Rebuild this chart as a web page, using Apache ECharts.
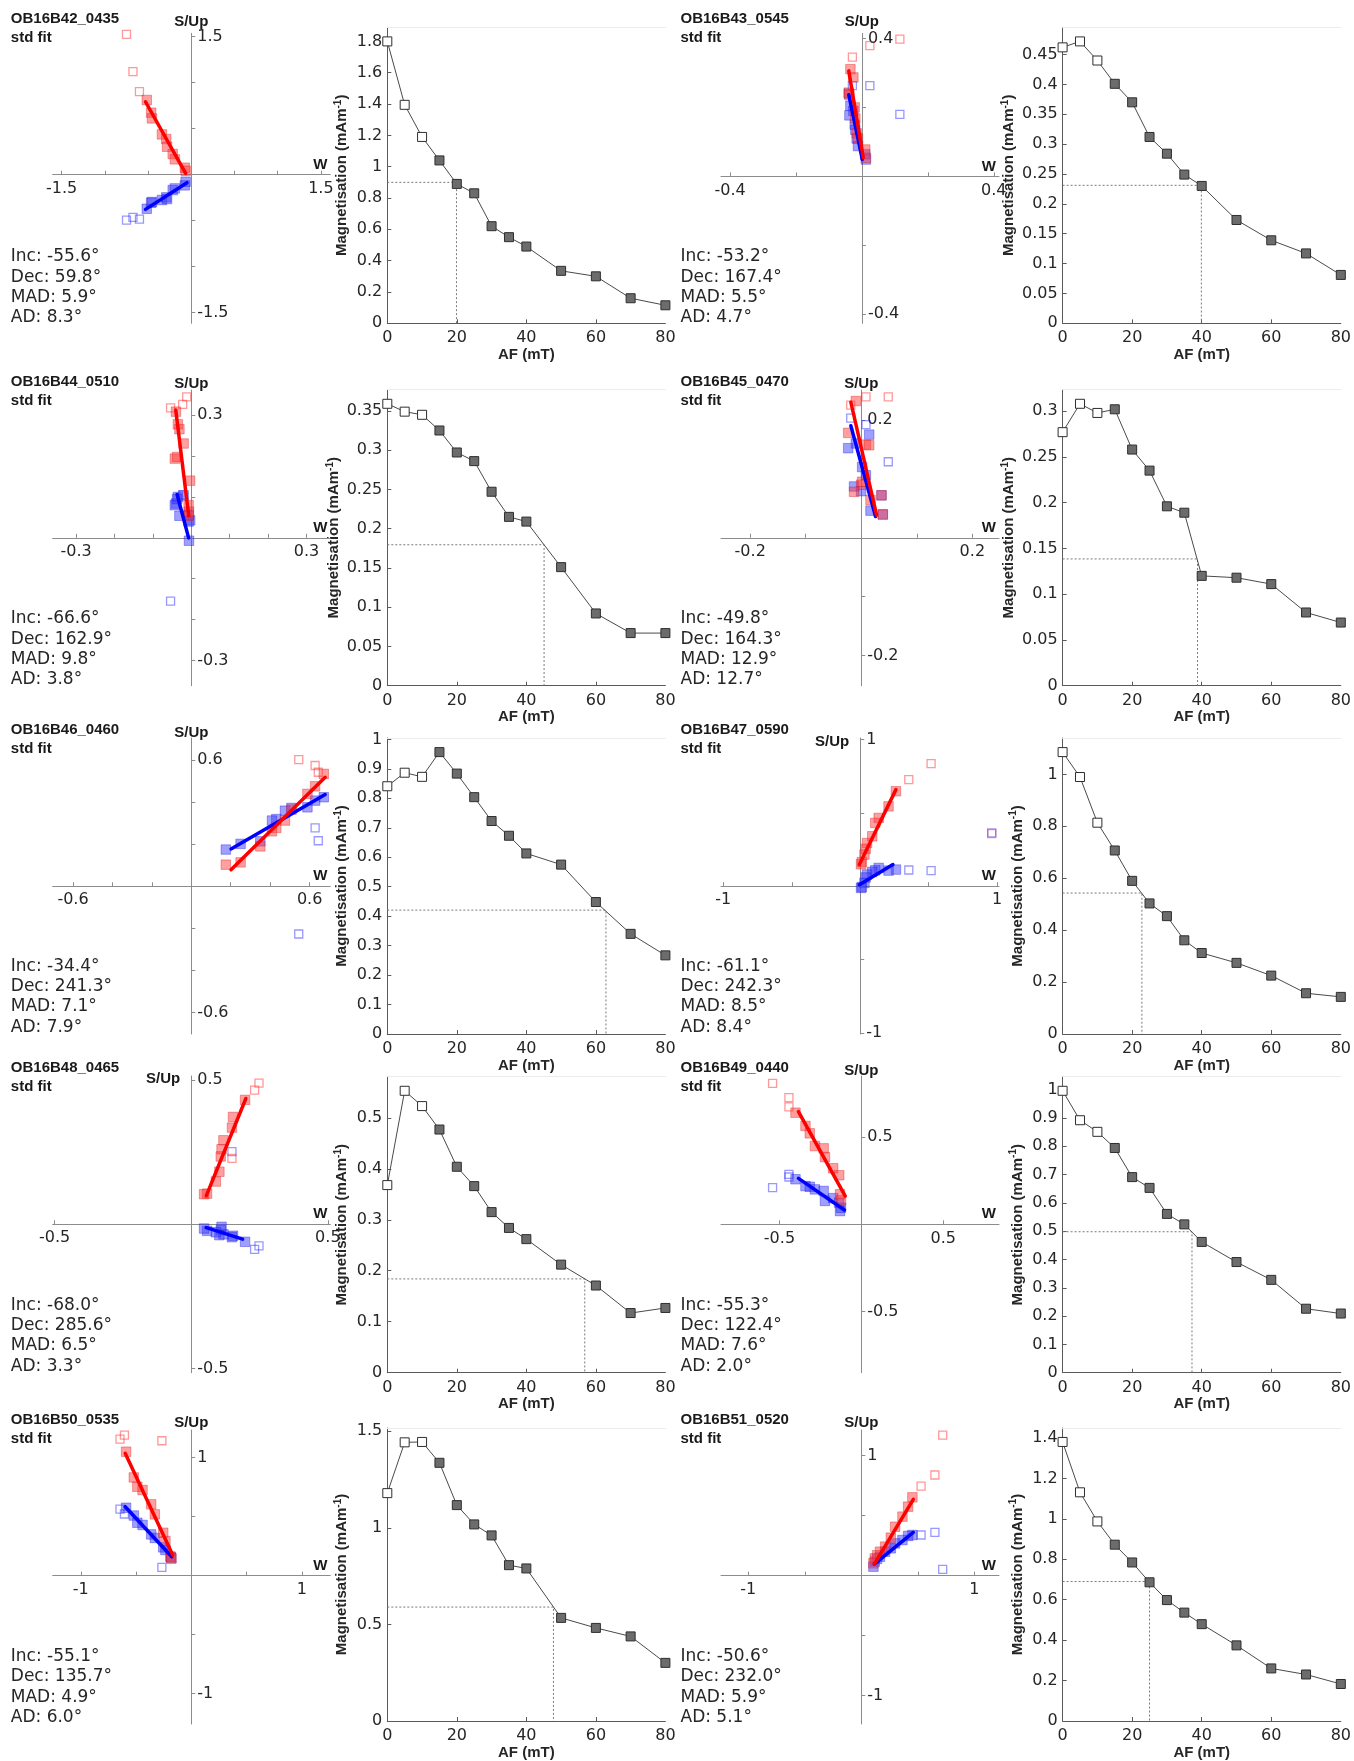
<!DOCTYPE html>
<html>
<head>
<meta charset="utf-8">
<script src="https://cdn.jsdelivr.net/npm/echarts@6/dist/echarts.min.js"></script>
<style>
  html, body { margin: 0; padding: 0; background: #ffffff; }
  #chart { width: 1354px; height: 1761px; }
</style>
</head>
<body>
<div id="chart"></div>
<script>
// ---------------------------------------------------------------------------
// AF demagnetisation results, ten specimens
// ---------------------------------------------------------------------------
const afSteps = [0, 5, 10, 15, 20, 25, 30, 35, 40, 50, 60, 70, 80]; // mT
const excludedSteps = 3; // first three steps (0, 5, 10 mT) are left out of the fit

const specimenNames = ['OB16B42_0435', 'OB16B43_0545', 'OB16B44_0510', 'OB16B45_0470', 'OB16B46_0460',
                       'OB16B47_0590', 'OB16B48_0465', 'OB16B49_0440', 'OB16B50_0535', 'OB16B51_0520'];
const fitLabel = 'std fit';
const incValues = [-55.6, -53.2, -66.6, -49.8, -34.4, -61.1, -68.0, -55.3, -55.1, -50.6];
const decValues = [59.8, 167.4, 162.9, 164.3, 241.3, 242.3, 285.6, 122.4, 135.7, 232.0];
const madValues = [5.9, 5.5, 9.8, 12.9, 7.1, 8.5, 6.5, 7.6, 4.9, 5.9];
const adValues  = [8.3, 4.7, 3.8, 12.7, 7.9, 8.4, 3.3, 2.0, 6.0, 5.1];

// Magnetisation intensity (mA/m) at each AF step
const magB42 = [1.80, 1.395, 1.19, 1.04, 0.89, 0.83, 0.62, 0.55, 0.49, 0.335, 0.30, 0.16, 0.115];
const magB43 = [0.462, 0.472, 0.440, 0.401, 0.370, 0.312, 0.284, 0.249, 0.230, 0.173, 0.139, 0.117, 0.081];
const magB44 = [0.359, 0.349, 0.345, 0.325, 0.297, 0.286, 0.247, 0.215, 0.209, 0.151, 0.092, 0.067, 0.067];
const magB45 = [0.277, 0.308, 0.298, 0.302, 0.258, 0.235, 0.196, 0.189, 0.120, 0.118, 0.111, 0.080, 0.069];
const magB46 = [0.841, 0.887, 0.873, 0.957, 0.884, 0.804, 0.723, 0.673, 0.613, 0.575, 0.448, 0.340, 0.267];
const magB47 = [1.086, 0.990, 0.814, 0.707, 0.590, 0.503, 0.454, 0.361, 0.312, 0.274, 0.225, 0.157, 0.143];
const magB48 = [0.368, 0.553, 0.523, 0.477, 0.404, 0.366, 0.315, 0.284, 0.262, 0.212, 0.171, 0.117, 0.127];
const magB49 = [0.996, 0.892, 0.851, 0.794, 0.691, 0.653, 0.561, 0.524, 0.462, 0.391, 0.328, 0.226, 0.209];
const magB50 = [1.180, 1.443, 1.445, 1.337, 1.118, 1.018, 0.961, 0.807, 0.790, 0.534, 0.482, 0.438, 0.301];
const magB51 = [1.380, 1.131, 0.987, 0.872, 0.784, 0.686, 0.598, 0.536, 0.479, 0.374, 0.260, 0.230, 0.183];

// Median destructive field: [AF (mT), half of NRM intensity]
const mdfB42 = [19.9, 0.900];
const mdfB43 = [39.9, 0.231];
const mdfB44 = [45.1, 0.1795];
const mdfB45 = [38.8, 0.1385];
const mdfB46 = [62.9, 0.4205];
const mdfB47 = [22.8, 0.543];
const mdfB48 = [56.8, 0.184];
const mdfB49 = [37.2, 0.498];
const mdfB50 = [47.8, 0.590];
const mdfB51 = [25.0, 0.690];

// Orthogonal-projection components: W (east-west), Up (vertical), S (north-south)
const wB42  = [-0.750, -0.675, -0.600, -0.515, -0.465, -0.455, -0.340, -0.290, -0.280, -0.215, -0.190, -0.075, -0.065];
const upB42 = [1.525, 1.120, 0.902, 0.812, 0.674, 0.612, 0.438, 0.388, 0.304, 0.225, 0.167, 0.076, 0.043];
const sB42  = [-0.493, -0.464, -0.482, -0.370, -0.304, -0.297, -0.275, -0.246, -0.264, -0.167, -0.149, -0.116, -0.076];
const fitVB42 = [[-0.530, 0.793], [-0.065, 0.014]];
const fitHB42 = [[-0.530, -0.377], [-0.050, -0.087]];

const wB43  = [0.115, 0.024, -0.029, -0.035, -0.026, -0.040, -0.038, -0.022, -0.020, -0.016, -0.012, 0.010, 0.012];
const upB43 = [0.398, 0.379, 0.346, 0.311, 0.287, 0.243, 0.236, 0.200, 0.168, 0.125, 0.110, 0.078, 0.054];
const sB43  = [0.180, 0.263, 0.263, 0.205, 0.190, 0.240, 0.177, 0.150, 0.135, 0.110, 0.088, 0.064, 0.049];
const fitVB43 = [[-0.040, 0.306], [0.004, 0.054]];
const fitHB43 = [[-0.040, 0.237], [0.001, 0.049]];

const wB44  = [-0.054, -0.0225, -0.012, -0.040, -0.035, -0.031, -0.020, -0.043, -0.037, -0.003, -0.007, -0.006, -0.007];
const upB44 = [0.318, 0.327, 0.345, 0.309, 0.278, 0.266, 0.231, 0.194, 0.198, 0.140, 0.080, 0.064, 0.054];
const sB44  = [-0.155, 0.105, 0.055, 0.084, 0.100, 0.054, 0.104, 0.080, 0.095, 0.043, 0.056, -0.007, 0.040];
const fitVB44 = [[-0.0405, 0.313], [-0.0067, 0.054]];
const fitHB44 = [[-0.037, 0.106], [-0.007, 0.000]];

const wB45  = [0.0486, 0.0085, -0.019, -0.0098, -0.0236, 0.0083, 0.0143, -0.0003, -0.013, 0.0166, 0.0364, 0.0388, 0.0015];
const upB45 = [0.239, 0.239, 0.225, 0.232, 0.178, 0.158, 0.157, 0.090, 0.078, 0.064, 0.072, 0.039, 0.095];
const sB45  = [0.129, 0.192, 0.203, 0.160, 0.152, 0.106, 0.175, 0.079, 0.087, 0.046, 0.072, 0.040, 0.120];
const fitVB45 = [[-0.0188, 0.230], [0.0276, 0.0384]];
const fitHB45 = [[-0.0188, 0.190], [0.0257, 0.036]];

const wB46  = [0.545, 0.628, 0.644, 0.672, 0.628, 0.589, 0.508, 0.475, 0.431, 0.409, 0.350, 0.250, 0.175];
const upB46 = [0.603, 0.575, 0.543, 0.535, 0.476, 0.440, 0.365, 0.313, 0.278, 0.262, 0.190, 0.114, 0.103];
const sB46  = [-0.227, 0.278, 0.217, 0.424, 0.408, 0.376, 0.373, 0.360, 0.320, 0.313, 0.214, 0.202, 0.175];
const fitVB46 = [[0.2015, 0.079], [0.679, 0.519]];
const fitHB46 = [[0.2015, 0.178], [0.679, 0.437]];

const wB47  = [0.961, 0.518, 0.355, 0.261, 0.207, 0.135, 0.110, 0.088, 0.050, 0.040, 0.031, 0.012, 0.006];
const upB47 = [0.359, 0.836, 0.727, 0.648, 0.545, 0.466, 0.432, 0.341, 0.295, 0.255, 0.216, 0.165, 0.150];
const sB47  = [0.364, 0.107, 0.111, 0.114, 0.107, 0.125, 0.109, 0.098, 0.080, 0.060, 0.023, -0.005, -0.011];
const fitVB47 = [[-0.006, 0.148], [0.261, 0.659]];
const fitHB47 = [[-0.006, 0.011], [0.239, 0.148]];

const wB48  = [0.248, 0.232, 0.149, 0.197, 0.153, 0.149, 0.118, 0.111, 0.108, 0.103, 0.090, 0.058, 0.047];
const upB48 = [0.489, 0.465, 0.228, 0.431, 0.372, 0.335, 0.291, 0.260, 0.235, 0.182, 0.148, 0.106, 0.104];
const sB48  = [-0.075, -0.087, 0.252, -0.061, -0.040, -0.045, -0.035, -0.009, -0.020, -0.038, -0.028, -0.023, -0.015];
const fitVB48 = [[0.055, 0.098], [0.200, 0.436]];
const fitHB48 = [[0.055, -0.012], [0.188, -0.052]];

const wB49  = [-0.542, -0.442, -0.442, -0.402, -0.341, -0.315, -0.283, -0.230, -0.222, -0.172, -0.135, -0.130, -0.124];
const upB49 = [0.807, 0.725, 0.672, 0.639, 0.563, 0.521, 0.448, 0.435, 0.385, 0.321, 0.281, 0.172, 0.137];
const sB49  = [0.210, 0.286, 0.271, 0.258, 0.219, 0.215, 0.200, 0.191, 0.134, 0.150, 0.124, 0.076, 0.095];
const fitVB49 = [[-0.384, 0.645], [-0.098, 0.162]];
const fitHB49 = [[-0.384, 0.263], [-0.103, 0.082]];

const wB50  = [-0.645, -0.605, -0.266, -0.590, -0.520, -0.488, -0.441, -0.363, -0.330, -0.254, -0.234, -0.1875, -0.180];
const upB50 = [1.158, 1.192, 1.144, 1.051, 0.833, 0.754, 0.726, 0.605, 0.520, 0.364, 0.294, 0.161, 0.147];
const sB50  = [0.565, 0.523, 0.071, 0.576, 0.510, 0.449, 0.430, 0.350, 0.320, 0.240, 0.218, 0.161, 0.147];
const fitVB50 = [[-0.598, 1.037], [-0.168, 0.175]];
const fitHB50 = [[-0.598, 0.585], [-0.176, 0.161]];

const wB51  = [0.720, 0.651, 0.529, 0.452, 0.414, 0.364, 0.299, 0.261, 0.211, 0.165, 0.140, 0.119, 0.107];
const upB51 = [1.172, 0.839, 0.747, 0.653, 0.575, 0.492, 0.408, 0.317, 0.242, 0.200, 0.170, 0.144, 0.103];
const sB51  = [0.053, 0.361, 0.339, 0.339, 0.331, 0.297, 0.269, 0.228, 0.200, 0.158, 0.140, 0.117, 0.075];
const fitVB51 = [[0.115, 0.097], [0.460, 0.636]];
const fitHB51 = [[0.115, 0.097], [0.460, 0.361]];

// Axis tick settings
const zijTickStep  = [0.5, 0.2, 0.1, 0.1, 0.2, 0.5, 0.5, 0.5, 0.5, 0.5];
const zijTickLabel = [1.5, 0.4, 0.3, 0.2, 0.6, 1, 0.5, 0.5, 1, 1];
const magTickStep  = [0.2, 0.05, 0.05, 0.05, 0.1, 0.2, 0.1, 0.1, 0.5, 0.2];
const afTickLabels = [0, 20, 40, 60, 80];

// ---------------------------------------------------------------------------
// Layout (pixels)
// ---------------------------------------------------------------------------
const rowBottom  = [323.3, 685.7, 1034, 1372.7, 1724];
const zijTop     = [33.3, 390, 738, 1076, 1430];
const demagHeight = 296;
const demagLeft  = [387.3, 1062.6];
const demagWidth = [278.1, 278.5];
const zijLeft    = [52.7, 721.0];
const zijWidth   = [277.6, 278.0];
const textLeft   = [10.8, 680.5];
const titleY     = [19, 381.7, 730.3, 1067.7, 1420];
const statsY     = [257, 619, 966.3, 1305.3, 1656.7];
const statsGap   = 20.3;
// axis extents of each projection plot: [xmin, xmax, ymin, ymax]
const zijExtent = [
  [-1.604, 1.609, -1.615, 1.537],
  [-0.4275, 0.4157, -0.426, 0.415],
  [-0.361, 0.362, -0.362, 0.362],
  [-0.2526, 0.248, -0.251, 0.2507],
  [-0.703, 0.705, -0.703, 0.706],
  [-1.017, 1.014, -1.007, 1.011],
  [-0.507, 0.509, -0.515, 0.514],
  [-0.857, 0.841, -0.849, 0.849],
  [-1.254, 1.258, -1.257, 1.235],
  [-1.241, 1.218, -1.236, 1.214]
];
const sUpY = [21.7, 21.7, 384.3, 384.3, 733, 742, 1079.3, 1071, 1422.7, 1422.7];
const sUpBeside = [false, false, false, false, false, true, true, false, false, false];

const TICK_FONT = "'DejaVu Sans', 'Noto Sans', sans-serif";
const BOLD_FONT = "'Liberation Sans', Arial, sans-serif";
const TEXT_COLOR = '#262626';

const specimens = [
  { mag: magB42, mdf: mdfB42, w: wB42, up: upB42, s: sB42, fitV: fitVB42, fitH: fitHB42 },
  { mag: magB43, mdf: mdfB43, w: wB43, up: upB43, s: sB43, fitV: fitVB43, fitH: fitHB43 },
  { mag: magB44, mdf: mdfB44, w: wB44, up: upB44, s: sB44, fitV: fitVB44, fitH: fitHB44 },
  { mag: magB45, mdf: mdfB45, w: wB45, up: upB45, s: sB45, fitV: fitVB45, fitH: fitHB45 },
  { mag: magB46, mdf: mdfB46, w: wB46, up: upB46, s: sB46, fitV: fitVB46, fitH: fitHB46 },
  { mag: magB47, mdf: mdfB47, w: wB47, up: upB47, s: sB47, fitV: fitVB47, fitH: fitHB47 },
  { mag: magB48, mdf: mdfB48, w: wB48, up: upB48, s: sB48, fitV: fitVB48, fitH: fitHB48 },
  { mag: magB49, mdf: mdfB49, w: wB49, up: upB49, s: sB49, fitV: fitVB49, fitH: fitHB49 },
  { mag: magB50, mdf: mdfB50, w: wB50, up: upB50, s: sB50, fitV: fitVB50, fitH: fitHB50 },
  { mag: magB51, mdf: mdfB51, w: wB51, up: upB51, s: sB51, fitV: fitVB51, fitH: fitHB51 }
];

function fmt(v) { return String(parseFloat(Number(v).toFixed(4))); }
function multiples(step, lo, hi, skipZero) {
  const out = [];
  const n0 = Math.ceil(lo / step - 1e-9), n1 = Math.floor(hi / step + 1e-9);
  for (let n = n0; n <= n1; n++) {
    if (skipZero && n === 0) continue;
    out.push(parseFloat((n * step).toFixed(6)));
  }
  return out;
}
function textEl(x, y, text, opts) {
  const st = Object.assign({
    text: text, x: 0, y: 0,
    fontFamily: TICK_FONT, fontSize: 17, fontWeight: 'normal', fill: TEXT_COLOR,
    align: 'left', verticalAlign: 'middle'
  }, opts || {});
  st.textAlign = st.align;
  st.textVerticalAlign = st.verticalAlign;
  return { type: 'text', x: x, y: y, silent: true, style: st };
}

const grids = [], xAxes = [], yAxes = [], series = [], graphics = [];

specimens.forEach(function (sp, k) {
  const row = Math.floor(k / 2), col = k % 2;

  // ---------------- orthogonal projection (Zijderveld) ----------------
  const ext = zijExtent[k];
  const zl = zijLeft[col], zw = zijWidth[col], zt = zijTop[row], zh = rowBottom[row] - zt;
  const originX = zl + (-ext[0]) / (ext[1] - ext[0]) * zw;
  const originY = zt + ext[3] / (ext[3] - ext[2]) * zh;
  const gz = grids.length;
  grids.push({ left: zl, top: zt, width: zw, height: zh, containLabel: false });
  const step = zijTickStep[k], lab = zijTickLabel[k];
  const axisGrey = '#8c8c8c';
  const zx = xAxes.length;
  xAxes.push({
    gridIndex: gz, type: 'value', min: ext[0], max: ext[1], position: 'bottom',
    offset: -(zt + zh - originY),
    axisLine: { show: true, onZero: false, lineStyle: { color: axisGrey, width: 1 } },
    axisTick: { show: true, inside: true, length: 4, customValues: multiples(step, ext[0], ext[1], true),
                lineStyle: { color: axisGrey } },
    axisLabel: { customValues: [-lab, lab], formatter: fmt, margin: 6,
                 fontFamily: TICK_FONT, fontSize: 16, color: TEXT_COLOR },
    splitLine: { show: false }
  });
  const zy = yAxes.length;
  yAxes.push({
    gridIndex: gz, type: 'value', min: ext[2], max: ext[3], position: 'left',
    offset: -(originX - zl),
    axisLine: { show: true, onZero: false, lineStyle: { color: axisGrey, width: 1 } },
    axisTick: { show: true, inside: true, length: 4, customValues: multiples(step, ext[2], ext[3], true),
                lineStyle: { color: axisGrey } },
    axisLabel: { inside: true, customValues: [-lab, lab], formatter: fmt, margin: 6,
                 fontFamily: TICK_FONT, fontSize: 16, color: TEXT_COLOR },
    splitLine: { show: false }
  });

  const openH = [], fillH = [], openV = [], fillV = [];
  sp.w.forEach(function (w, i) {
    if (i < excludedSteps) { openH.push([w, sp.s[i]]); openV.push([w, sp.up[i]]); }
    else { fillH.push([w, sp.s[i]]); fillV.push([w, sp.up[i]]); }
  });
  const common = { xAxisIndex: zx, yAxisIndex: zy, symbol: 'rect', silent: true, animation: false };
  series.push(Object.assign({ type: 'scatter', data: openH, symbolSize: 8, z: 2,
    itemStyle: { color: 'rgba(255,255,255,0)', borderColor: 'rgba(40,40,255,0.6)', borderWidth: 1.3 } }, common));
  series.push(Object.assign({ type: 'scatter', data: fillH, symbolSize: 9.5, z: 2,
    itemStyle: { color: 'rgba(60,60,255,0.62)', borderColor: 'rgba(20,20,220,0.45)', borderWidth: 1 } }, common));
  series.push(Object.assign({ type: 'scatter', data: openV, symbolSize: 8, z: 3,
    itemStyle: { color: 'rgba(255,255,255,0)', borderColor: 'rgba(255,40,40,0.6)', borderWidth: 1.3 } }, common));
  series.push(Object.assign({ type: 'scatter', data: fillV, symbolSize: 9.5, z: 3,
    itemStyle: { color: 'rgba(255,60,60,0.62)', borderColor: 'rgba(220,20,20,0.45)', borderWidth: 1 } }, common));
  series.push({ type: 'line', xAxisIndex: zx, yAxisIndex: zy, data: sp.fitH, symbol: 'none', z: 4,
    silent: true, animation: false, lineStyle: { color: '#0000ff', width: 3.5, cap: 'round' } });
  series.push({ type: 'line', xAxisIndex: zx, yAxisIndex: zy, data: sp.fitV, symbol: 'none', z: 5,
    silent: true, animation: false, lineStyle: { color: '#ff0000', width: 3.5, cap: 'round' } });

  // axis captions of the projection plot
  if (sUpBeside[k]) {
    graphics.push(textEl(originX - 11, sUpY[k], 'S/Up', { fontFamily: BOLD_FONT, fontWeight: 'bold', fontSize: 15, align: 'right', fill: '#1a1a1a' }));
  } else {
    graphics.push(textEl(originX, sUpY[k], 'S/Up', { fontFamily: BOLD_FONT, fontWeight: 'bold', fontSize: 15, align: 'center', fill: '#1a1a1a' }));
  }
  graphics.push(textEl(zl + zw - 3, originY - 10, 'W', { fontFamily: BOLD_FONT, fontWeight: 'bold', fontSize: 15, align: 'right', fill: '#1a1a1a' }));

  // specimen name and fit statistics
  const tx = textLeft[col];
  graphics.push(textEl(tx, titleY[row], specimenNames[k], { fontFamily: BOLD_FONT, fontWeight: 'bold', fontSize: 15, fill: '#1a1a1a' }));
  graphics.push(textEl(tx, titleY[row] + 19, fitLabel, { fontFamily: BOLD_FONT, fontWeight: 'bold', fontSize: 15, fill: '#1a1a1a' }));
  const stats = [
    'Inc: ' + incValues[k].toFixed(1) + '\u00b0',
    'Dec: ' + decValues[k].toFixed(1) + '\u00b0',
    'MAD: ' + madValues[k].toFixed(1) + '\u00b0',
    'AD: ' + adValues[k].toFixed(1) + '\u00b0'
  ];
  stats.forEach(function (t, j) {
    graphics.push(textEl(tx, statsY[row] + j * statsGap, t, { fontSize: 17 }));
  });

  // ---------------- demagnetisation curve ----------------
  const gd = grids.length;
  const dTop = rowBottom[row] - demagHeight;
  grids.push({ left: demagLeft[col], top: dTop, width: demagWidth[col], height: demagHeight, containLabel: false });
  const yMax = 1.05 * Math.max.apply(null, sp.mag);
  const yTicks = multiples(magTickStep[k], 0, yMax, false);
  const darkAxis = '#5a5a5a';
  const dx = xAxes.length;
  xAxes.push({
    gridIndex: gd, type: 'value', min: 0, max: 80, position: 'bottom',
    name: 'AF (mT)', nameLocation: 'middle', nameGap: 24,
    nameTextStyle: { fontFamily: BOLD_FONT, fontWeight: 'bold', fontSize: 15, color: TEXT_COLOR },
    axisLine: { show: true, onZero: false, lineStyle: { color: darkAxis, width: 1 } },
    axisTick: { show: true, inside: true, length: 4, customValues: afTickLabels.slice(1, -1), lineStyle: { color: darkAxis } },
    axisLabel: { customValues: afTickLabels, formatter: fmt, margin: 7, fontFamily: TICK_FONT, fontSize: 16, color: TEXT_COLOR },
    splitLine: { show: false }
  });
  // faint upper frame line
  xAxes.push({
    gridIndex: gd, type: 'value', min: 0, max: 80, position: 'top',
    axisLine: { show: true, onZero: false, lineStyle: { color: '#ececec', width: 1 } },
    axisTick: { show: false }, axisLabel: { show: false }, splitLine: { show: false }
  });
  const dy = yAxes.length;
  yAxes.push({
    gridIndex: gd, type: 'value', min: 0, max: yMax, position: 'left',
    name: 'Magnetisation (mAm{sup|-1})', nameLocation: 'middle', nameGap: 36, nameRotate: 90,
    nameTextStyle: { fontFamily: BOLD_FONT, fontWeight: 'bold', fontSize: 15, color: TEXT_COLOR, lineHeight: 18,
      rich: { sup: { fontFamily: BOLD_FONT, fontWeight: 'bold', fontSize: 10, color: TEXT_COLOR, lineHeight: 10, verticalAlign: 'top' } } },
    axisLine: { show: true, onZero: false, lineStyle: { color: darkAxis, width: 1 } },
    axisTick: { show: true, inside: true, length: 4, customValues: yTicks.slice(1), lineStyle: { color: darkAxis } },
    axisLabel: { customValues: yTicks, formatter: fmt, margin: 5, fontFamily: TICK_FONT, fontSize: 16, color: TEXT_COLOR },
    splitLine: { show: false }
  });

  series.push({
    type: 'line', xAxisIndex: dx, yAxisIndex: dy, silent: true, animation: false, z: 1,
    data: [[0, sp.mdf[1]], [sp.mdf[0], sp.mdf[1]], [sp.mdf[0], 0]], symbol: 'none',
    lineStyle: { color: '#7a7a7a', width: 1, type: [2, 2] }
  });
  series.push({
    type: 'line', xAxisIndex: dx, yAxisIndex: dy, silent: true, animation: false, z: 3,
    symbol: 'rect', symbolSize: 9,
    lineStyle: { color: '#4a4a4a', width: 1 },
    itemStyle: { borderColor: '#2e2e2e', borderWidth: 1 },
    data: afSteps.map(function (af, i) {
      return { value: [af, sp.mag[i]], itemStyle: { color: i < excludedSteps ? '#ffffff' : '#6c6c6c' } };
    })
  });
});

const chart = echarts.init(document.getElementById('chart'), null, { renderer: 'canvas', width: 1354, height: 1761 });
chart.setOption({
  backgroundColor: '#ffffff',
  animation: false,
  grid: grids,
  xAxis: xAxes,
  yAxis: yAxes,
  series: series,
  graphic: { elements: graphics }
});
</script>
</body>
</html>
